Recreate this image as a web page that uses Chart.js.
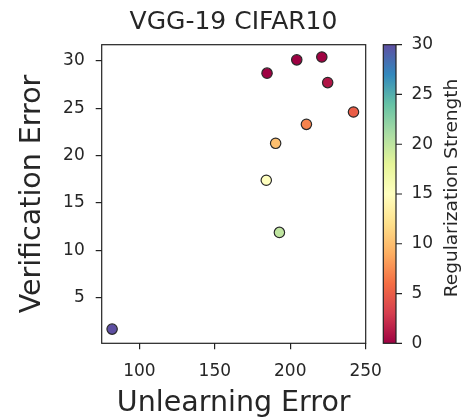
<!DOCTYPE html>
<html>
<head>
<meta charset="utf-8">
<script src="https://cdn.jsdelivr.net/npm/chart.js@4.4.1/dist/chart.umd.min.js"></script>
<style>
  html, body { margin: 0; padding: 0; background: #fff; }
</style>
</head>
<body>
<canvas id="myChart" width="467" height="418"></canvas>
<script>
// values
const unlearningError = [184.6, 204.3, 220.9, 224.8, 241.9, 210.7, 190.3, 184.1, 192.8, 81.9];
const verificationError = [28.7, 30.1, 30.4, 27.7, 24.6, 23.3, 21.3, 17.4, 11.9, 1.7];
const regStrength = [0.001, 0.01, 0.1, 1, 5, 7, 10, 15, 20, 30];

const xTicks = [100, 150, 200, 250];
const yTicks = [5, 10, 15, 20, 25, 30];
const cbTicks = [0, 5, 10, 15, 20, 25, 30];

// matplotlib "Spectral" colormap anchors
const spectral = ['#9e0142', '#d53e4f', '#f46d43', '#fdae61', '#fee08b', '#ffffbf',
                  '#e6f598', '#abdda4', '#66c2a5', '#3288bd', '#5e4fa2'];

function hexToRgb(h) {
    return [parseInt(h.slice(1, 3), 16), parseInt(h.slice(3, 5), 16), parseInt(h.slice(5, 7), 16)];
}

function spectralColor(t) {
    t = Math.max(0, Math.min(1, t));
    const pos = t * (spectral.length - 1);
    const i = Math.min(Math.floor(pos), spectral.length - 2);
    const f = pos - i;
    const a = hexToRgb(spectral[i]), b = hexToRgb(spectral[i + 1]);
    const c = a.map((v, k) => Math.round(v + (b[k] - v) * f));
    return `rgb(${c[0]}, ${c[1]}, ${c[2]})`;
}

const FONT = "'DejaVu Sans', sans-serif";
const TEXT = '#262626';

// keep the layout from reserving room for overflowing tick labels
function noPadding(s) {
    s.paddingTop = 0;
    s.paddingBottom = 0;
    s.paddingLeft = 0;
    s.paddingRight = 0;
}

// frame around the axes, plus the colorbar on the right
const frameAndColorbar = {
    id: 'frameAndColorbar',
    afterDraw(chart) {
        const ctx = chart.ctx;
        const area = chart.chartArea;
        const cb = chart.scales.cb;
        ctx.save();
        ctx.strokeStyle = '#222';
        ctx.lineWidth = 1.2;
        ctx.strokeRect(area.left, area.top, area.right - area.left, area.bottom - area.top);

        const x0 = area.right + 17.6, w = 12.7;
        const yTop = cb.getPixelForValue(30), yBot = cb.getPixelForValue(0);
        const grad = ctx.createLinearGradient(0, yBot, 0, yTop);
        spectral.forEach((c, i) => grad.addColorStop(i / (spectral.length - 1), c));
        ctx.fillStyle = grad;
        ctx.fillRect(x0, yTop, w, yBot - yTop);
        ctx.strokeRect(x0, yTop, w, yBot - yTop);

        // tick marks on the right side of the bar
        ctx.beginPath();
        cb.ticks.forEach(t => {
            const y = cb.getPixelForValue(t.value);
            ctx.moveTo(x0 + w, y);
            ctx.lineTo(x0 + w + 6, y);
        });
        ctx.stroke();

        // colorbar label, reading bottom to top
        ctx.translate(456.5, (yTop + yBot) / 2 - 6);
        ctx.rotate(-Math.PI / 2);
        ctx.fillStyle = TEXT;
        ctx.font = `18.5px ${FONT}`;
        ctx.textAlign = 'center';
        ctx.textBaseline = 'alphabetic';
        ctx.fillText('Regularization Strength', 0, 0);
        ctx.restore();
    }
};

const ctx = document.getElementById('myChart').getContext('2d');

new Chart(ctx, {
    type: 'scatter',
    data: {
        datasets: [{
            data: unlearningError.map((x, i) => ({ x: x, y: verificationError[i] })),
            backgroundColor: regStrength.map(v => spectralColor(v / 30)),
            borderColor: '#2a2a2a',
            borderWidth: 1.2,
            pointRadius: 5.2,
            pointHoverRadius: 5.2,
        }]
    },
    options: {
        responsive: false,
        animation: false,
        events: [],
        layout: { padding: 0 },
        plugins: {
            legend: { display: false },
            tooltip: { enabled: false },
            title: {
                display: true,
                text: 'VGG-19 CIFAR10',
                color: TEXT,
                font: { family: FONT, size: 25, weight: 'normal', lineHeight: 1.2 },
                padding: { top: 7, bottom: 7.7 },
            },
        },
        scales: {
            x: {
                type: 'linear',
                min: 75,
                max: 250,
                afterBuildTicks: s => { s.ticks = xTicks.map(v => ({ value: v })); },
                afterFit: s => { s.height = 74.7; noPadding(s); },
                grid: { drawOnChartArea: false, tickLength: 6, color: '#222', lineWidth: 1.2 },
                border: { display: false },
                ticks: { color: TEXT, padding: 12.5, font: { family: FONT, size: 17 } },
                title: {
                    display: true,
                    text: 'Unlearning Error',
                    color: TEXT,
                    font: { family: FONT, size: 28.5, lineHeight: 1.2 },
                    padding: { top: 0, bottom: -3 },
                },
            },
            y: {
                type: 'linear',
                min: 0.2,
                max: 31.7,
                afterBuildTicks: s => { s.ticks = yTicks.map(v => ({ value: v })); },
                afterFit: s => { s.width = 101.7; noPadding(s); },
                grid: { drawOnChartArea: false, tickLength: 6, color: '#222', lineWidth: 1.2 },
                border: { display: false },
                ticks: { color: TEXT, padding: 11, font: { family: FONT, size: 17 } },
                title: {
                    display: true,
                    text: 'Verification Error',
                    color: TEXT,
                    font: { family: FONT, size: 28.5, lineHeight: 1.2 },
                    padding: { top: 15.9, bottom: 0 },
                },
            },
            cb: {
                type: 'linear',
                position: 'right',
                min: 0,
                max: 30,
                afterBuildTicks: s => { s.ticks = cbTicks.map(v => ({ value: v })); },
                afterFit: s => { s.width = 101.3; noPadding(s); },
                grid: { display: false, drawTicks: false },
                border: { display: false },
                ticks: { color: TEXT, padding: 45.8, font: { family: FONT, size: 17 } },
            },
        },
    },
    plugins: [frameAndColorbar],
});
</script>
</body>
</html>
